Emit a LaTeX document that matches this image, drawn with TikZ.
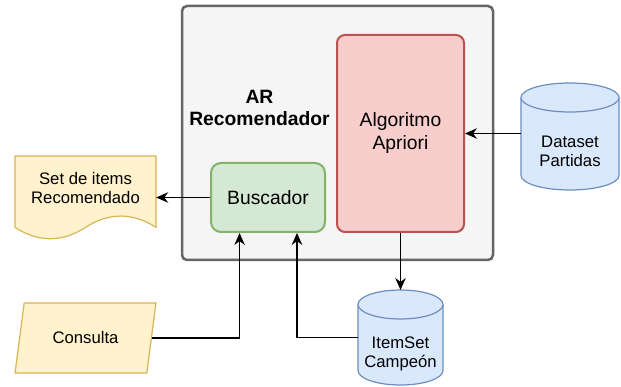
\documentclass[tikz,border=0pt]{standalone}
\usepackage{fontspec}
\setmainfont{Liberation Sans}
\usetikzlibrary{arrows.meta,positioning,shapes.geometric,calc,backgrounds}

\definecolor{boxfill}{HTML}{F5F5F5}
\definecolor{boxline}{HTML}{666666}
\definecolor{redfill}{HTML}{F8CECC}
\definecolor{redline}{HTML}{B85450}
\definecolor{greenfill}{HTML}{D5E8D4}
\definecolor{greenline}{HTML}{82B366}
\definecolor{yellowfill}{HTML}{FFF2CC}
\definecolor{yellowline}{HTML}{D6B656}
\definecolor{bluefill}{HTML}{DAE8FC}
\definecolor{blueline}{HTML}{6C8EBF}

% drum outline behind a node: name, width, height (pt)
\newcommand\drum[3]{%
  \begin{scope}[on background layer, shift={(#1.north west)}]
    \filldraw[dbline] (0,14.5) -- (0,#3-14.5)
      arc[start angle=180, end angle=360, x radius={#2*0.5pt}, y radius=14.5pt]
      -- (#2,14.5)
      arc[start angle=0, end angle=180, x radius={#2*0.5pt}, y radius=14.5pt] -- cycle;
    \draw[dbline] (0,14.5)
      arc[start angle=180, end angle=360, x radius={#2*0.5pt}, y radius=14.5pt];
  \end{scope}}

\begin{document}
\begin{tikzpicture}[x=1pt, y=-1pt, >={Stealth[length=12pt,width=10.5pt]},
  big/.style={font=\fontsize{19.3}{23}\selectfont, align=center},
  small/.style={font=\fontsize{16.7}{19}\selectfont, align=center},
  dbline/.style={draw=blueline, fill=bluefill, line width=1.2pt},
  db/.style={inner sep=0pt, outer sep=0pt},
  link/.style={->, line width=1.4pt}]
  \useasboundingbox (0,0) rectangle (621,387);

  % recommender block
  \node[draw=boxline, fill=boxfill, line width=2.5pt, rounded corners=5pt,
    minimum width=311pt, minimum height=254pt] (AR) at (337.5,133) {};
  \node[font=\fontsize{19.3}{21.5}\selectfont\bfseries, align=center] (title) at (259.5,108) {AR\\Recomendador};
  \node[big, draw=redline, fill=redfill, line width=2pt, rounded corners=8pt,
    minimum width=127pt, minimum height=197pt] (apriori) at (400.5,133.5) {Algoritmo\\Apriori};
  \node[big, draw=greenline, fill=greenfill, line width=2pt, rounded corners=10pt,
    minimum width=114pt, minimum height=69pt] (busc) at (268,197.5) {Buscador};

  % output document
  \draw[draw=yellowline, fill=yellowfill, line width=1.2pt] (15,156) -- (156,156) -- (156,227.4)
    .. controls (132.5,212.3) and (109,212.3) .. (85.5,227.4)
    .. controls (62,242.5) and (38.5,242.5) .. (15,227.4) -- cycle;
  \node[small, minimum width=141pt, inner sep=0pt] (doc) at (85.5,188) {Set de items\\Recomendado};

  % input query
  \node[small, trapezium, trapezium left angle=68.2, trapezium right angle=111.8,
    trapezium stretches=true, draw=yellowline, fill=yellowfill, line width=1.2pt,
    minimum width=141pt, minimum height=70pt, inner sep=0pt] (query) at (85.5,338) {Consulta};

  % data stores
  \node[db, minimum width=98pt, minimum height=107pt,
    label={[small, yshift=-15pt]center:Dataset\\Partidas}] (data) at (570,136.5) {};
  \drum{data}{98}{107}
  \node[db, minimum width=85pt, minimum height=95pt,
    label={[small, yshift=-16pt]center:ItemSet\\Campeón}] (champ) at (400.5,337.5) {};
  \drum{champ}{85}{95}

  \coordinate (qin) at ($(busc.south west)!0.255!(busc.south east)$);
  \coordinate (iin) at ($(busc.south west)!0.75!(busc.south east)$);

  \draw[link] (busc.west) -- (busc.west -| doc.east);
  \draw[link] (query.east) -| (qin);
  \draw[link] (champ.west) -| (iin);
  \draw[link] (apriori.south) -- (champ.north);
  \draw[link] (data.west |- apriori.east) -- (apriori.east);
\end{tikzpicture}
\end{document}
